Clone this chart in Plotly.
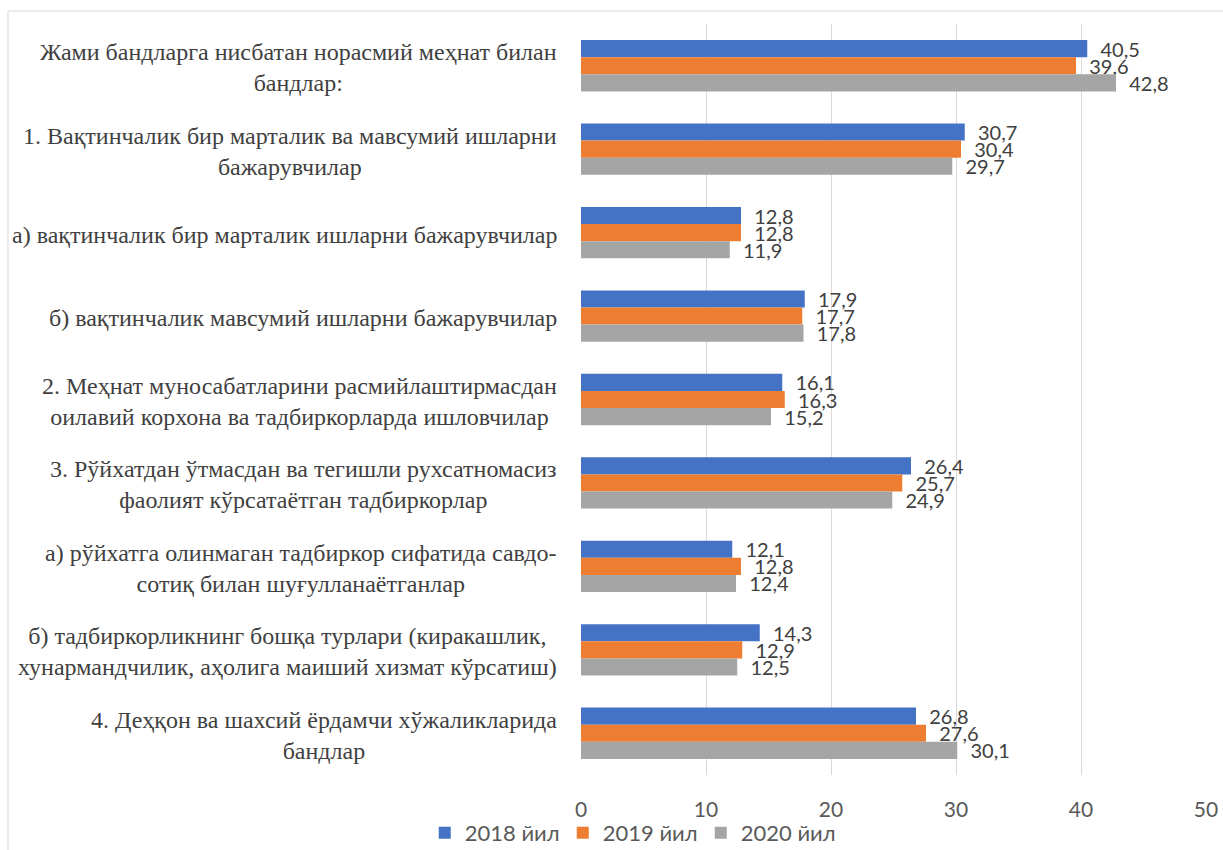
import plotly.graph_objects as go

categories = [
    "Жами бандларга нисбатан норасмий меҳнат билан<br>бандлар:",
    "1. Вақтинчалик бир марталик ва мавсумий ишларни<br>бажарувчилар",
    "а) вақтинчалик бир марталик ишларни бажарувчилар",
    "б) вақтинчалик мавсумий ишларни бажарувчилар",
    "2. Меҳнат муносабатларини расмийлаштирмасдан<br>оилавий корхона ва тадбиркорларда ишловчилар",
    "3. Рўйхатдан ўтмасдан ва тегишли рухсатномасиз<br>фаолият кўрсатаётган тадбиркорлар",
    "а) рўйхатга олинмаган тадбиркор сифатида савдо-<br>сотиқ билан шуғулланаётганлар",
    "б) тадбиркорликнинг бошқа турлари (киракашлик,<br>хунармандчилик, аҳолига маиший хизмат кўрсатиш)",
    "4. Деҳқон ва шахсий ёрдамчи хўжаликларида<br>бандлар",
]
series_names = ["2018 йил", "2019 йил", "2020 йил"]
v2018 = [40.5, 30.7, 12.8, 17.9, 16.1, 26.4, 12.1, 14.3, 26.8]
v2019 = [39.6, 30.4, 12.8, 17.7, 16.3, 25.7, 12.8, 12.9, 27.6]
v2020 = [42.8, 29.7, 11.9, 17.8, 15.2, 24.9, 12.4, 12.5, 30.1]
colors = ["#4472C4", "#ED7D31", "#A5A5A5"]

num_font = "Lato, Roboto, sans-serif"

fig = go.Figure()
for name, vals, col in zip(series_names, [v2018, v2019, v2020], colors):
    fig.add_trace(go.Bar(
        y=categories, x=vals, name=name, orientation="h",
        marker=dict(color=col, line=dict(width=0)),
        text=["\u00a0\u00a0" + f"{v:.1f}".replace(".", ",") for v in vals],
        textposition="outside", cliponaxis=False, constraintext="none",
        textfont=dict(family=num_font, size=20, color="#404040"),
    ))

for cat in categories:
    fig.add_annotation(
        x=0, xref="paper", y=cat, yref="y", xshift=-22, yshift=-2,
        xanchor="right", yanchor="middle", align="center",
        text=cat, showarrow=False,
        font=dict(family="Liberation Serif, Times New Roman, serif", size=24, color="#404040"),
    )

fig.add_shape(type="rect", xref="paper", yref="paper",
              x0=-0.9168, x1=1.06, y0=-0.2, y1=1.0173,
              line=dict(color="#D9D9D9", width=1), fillcolor="rgba(0,0,0,0)", layer="below")

fig.update_layout(
    width=1223, height=850,
    margin=dict(l=581, r=17, t=24, b=75, autoexpand=False),
    paper_bgcolor="white", plot_bgcolor="white",
    barmode="group", bargap=0.385, bargroupgap=0,
    separators=",.",
    showlegend=True,
    legend=dict(orientation="h", x=-0.25, xanchor="left", y=-0.077, yanchor="middle",
                font=dict(family=num_font, size=22, color="#595959"),
                itemwidth=30, entrywidth=93, traceorder="normal", bgcolor="rgba(0,0,0,0)"),
    xaxis=dict(range=[0, 50], dtick=10, showgrid=True, gridcolor="#D9D9D9", gridwidth=1,
               zeroline=False, showline=False, ticks="", automargin=False,
               tickfont=dict(family=num_font, size=21, color="#595959"),
               ticklabelstandoff=20),
    yaxis=dict(autorange="reversed", showticklabels=False, showgrid=False, automargin=False,
               zeroline=False, showline=False, ticks=""),
)

fig.write_html("out.html", config={"displayModeBar": False},
               post_script="document.body.style.margin='0';document.body.style.overflow='hidden';")
